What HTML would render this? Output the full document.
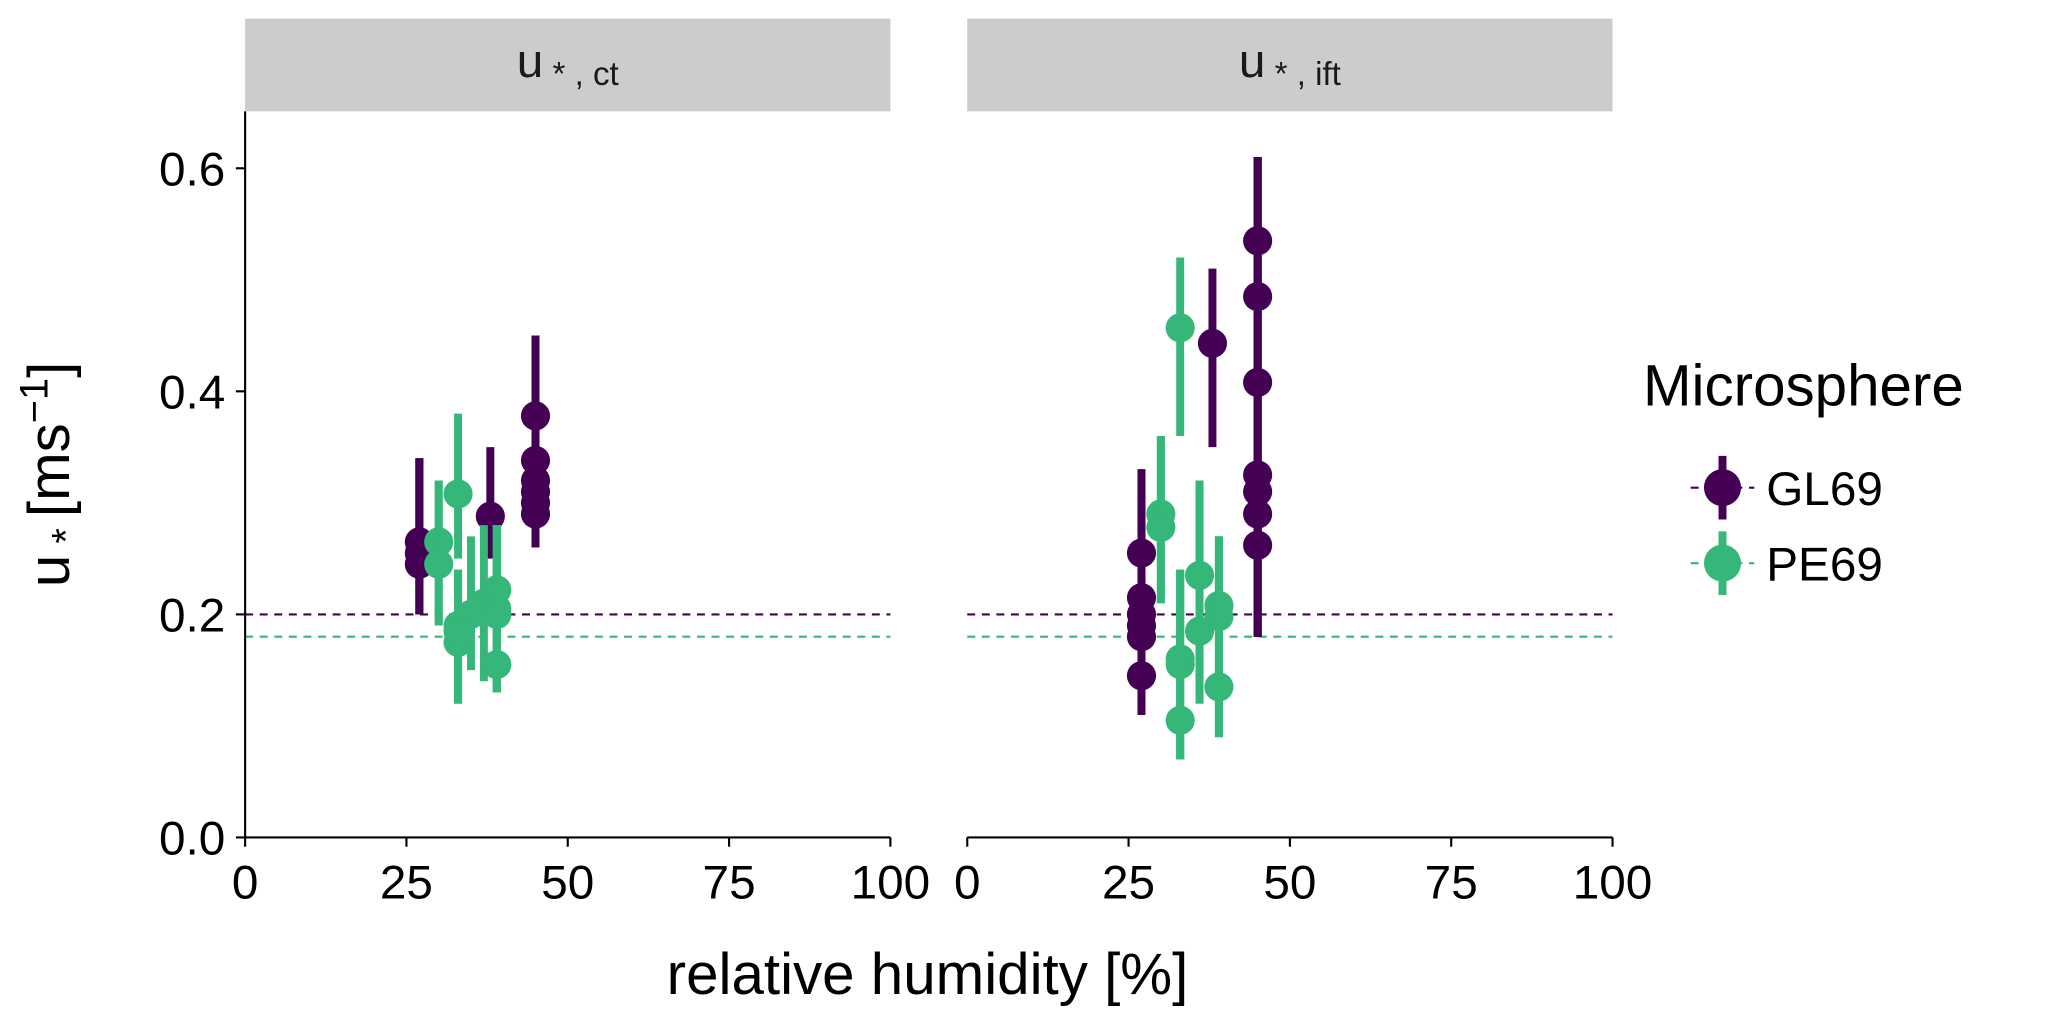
<!DOCTYPE html>
<html><head><meta charset="utf-8"><style>
html,body{margin:0;padding:0;background:#fff}
svg{display:block;font-family:"Liberation Sans",Arial,sans-serif}
</style></head><body>
<svg id="chart" width="2067" height="1019" viewBox="0 0 1560 769" xmlns="http://www.w3.org/2000/svg">
<g id="root"></g>
</svg>
<script>
// data arrays: panel index, group, humidity, u*, error low, error high
const panels = ["ct", "ift"];
const groups = ["GL69", "PE69"];
const ptPanel = [0,0,0,0,0,0,0,0,0,0, 0,0,0,0,0,0,0,0,0,0,0,0, 1,1,1,1,1,1,1,1,1,1,1,1,1,1, 1,1,1,1,1,1,1,1,1,1,1];
const ptGroup = [0,0,0,0,0,0,0,0,0,0, 1,1,1,1,1,1,1,1,1,1,1,1, 0,0,0,0,0,0,0,0,0,0,0,0,0,0, 1,1,1,1,1,1,1,1,1,1,1];
const ptX = [27,27,27,38,45,45,45,45,45,45, 30,30,33,33,33,35,37,39,39,39, 33,39,
             27,27,27,27,27,27,38,45,45,45,45,45,45,45, 30,30,33,33,33,33,36,36,39,39,39];
const ptY = [0.265,0.255,0.245,0.288,0.378,0.338,0.32,0.31,0.3,0.29, 0.265,0.245,0.308,0.19,0.175,0.2,0.21,0.222,0.205,0.155, 0.185,0.2,
             0.255,0.215,0.2,0.19,0.18,0.145,0.443,0.535,0.485,0.408,0.325,0.31,0.29,0.262, 0.29,0.278,0.457,0.16,0.155,0.105,0.235,0.185,0.208,0.198,0.135];
const ptLo = [0.2,0.2,0.2,0.25,0.26,0.26,0.26,0.26,0.26,0.26, 0.19,0.19,0.25,0.12,0.12,0.15,0.14,0.13,0.13,0.13, 0.12,0.13,
             0.11,0.11,0.11,0.11,0.11,0.11,0.35,0.18,0.18,0.18,0.18,0.18,0.18,0.18, 0.21,0.21,0.36,0.07,0.07,0.07,0.12,0.12,0.09,0.09,0.09];
const ptHi = [0.34,0.34,0.34,0.35,0.45,0.45,0.45,0.45,0.45,0.45, 0.32,0.32,0.38,0.24,0.24,0.27,0.28,0.28,0.28,0.28, 0.24,0.28,
             0.33,0.33,0.33,0.33,0.33,0.33,0.51,0.61,0.61,0.61,0.61,0.61,0.61,0.61, 0.36,0.36,0.52,0.24,0.24,0.24,0.32,0.32,0.27,0.27,0.27];
const refLines = [0.2, 0.18];
const xTicks = [0,25,50,75,100];
const yTicks = [0.0,0.2,0.4,0.6];
const yTickLabels = ["0.0","0.2","0.4","0.6"];

const colors = ["#440154","#35b779"];
const NS = "http://www.w3.org/2000/svg";
const root = document.getElementById("root");
const panelLeft = [185, 730], panelW = 487, yBottom = 632, yTop = 84;
function sx(p, v){ return panelLeft[p] + v/100*panelW; }
function sy(v){ return 632 - v*841.7; }
function mk(tag, attrs, parent){ const e=document.createElementNS(NS,tag); for(const k in attrs) e.setAttribute(k,attrs[k]); (parent||root).appendChild(e); return e; }

panels.forEach((pn,p)=>{
  const g = mk("g",{});
  
  
  const strip = mk("rect",{x:panelLeft[p],y:14,width:panelW,height:70,fill:"#cccccc"},g);
  
  
  const st = mk("text",{x:panelLeft[p]+panelW/2,y:58,"text-anchor":"middle","font-size":"36",fill:"#1a1a1a"},g);
  st.innerHTML = 'u<tspan font-size="25" dy="6"> * , '+pn+'</tspan>';
  
  
  refLines.forEach((r,i)=>{
    const l = mk("line",{x1:panelLeft[p],x2:panelLeft[p]+panelW,y1:sy(r),y2:sy(r),stroke:colors[i],"stroke-width":1.6,"stroke-dasharray":"6 5"},g);
    
    
  });
  const xa = mk("line",{x1:panelLeft[p],x2:panelLeft[p]+panelW,y1:yBottom,y2:yBottom,stroke:"#000","stroke-width":1.6},g);
  
  
  xTicks.forEach(t=>{
    mk("line",{x1:sx(p,t),x2:sx(p,t),y1:yBottom,y2:yBottom+7,stroke:"#000","stroke-width":1.6},g);
    const tl = mk("text",{x:sx(p,t),y:yBottom+46,"text-anchor":"middle","font-size":"36",fill:"#000"},g);
    tl.textContent = t;
    
    
  });
  for(let i=0;i<ptX.length;i++){
    if(ptPanel[i]!==p) continue;
    const c = colors[ptGroup[i]];
    const eb = mk("line",{x1:sx(p,ptX[i]),x2:sx(p,ptX[i]),y1:sy(ptLo[i]),y2:sy(ptHi[i]),stroke:c,"stroke-width":6},g);
    
    
    const pt = mk("circle",{cx:sx(p,ptX[i]),cy:sy(ptY[i]),r:11,fill:c},g);
    
    
  }
});
const ya = mk("line",{x1:185,x2:185,y1:yTop,y2:yBottom,stroke:"#000","stroke-width":1.6});


yTicks.forEach((t,i)=>{
  mk("line",{x1:178,x2:185,y1:sy(t),y2:sy(t),stroke:"#000","stroke-width":1.6});
  const tl = mk("text",{x:170,y:sy(t)+13,"text-anchor":"end","font-size":"36",fill:"#000"});
  tl.textContent = yTickLabels[i];
  
  
});
const xt = mk("text",{x:700,y:750,"text-anchor":"middle","font-size":"44",fill:"#000"});
xt.textContent = "relative humidity [%]";


const yt = mk("text",{x:0,y:0,"text-anchor":"middle","font-size":"44",fill:"#000",transform:"translate(52,358) rotate(-90)"});
yt.innerHTML = 'u<tspan font-size="30" dy="8"> * </tspan><tspan dy="-8"> [ms</tspan><tspan font-size="30" dy="-16">−1</tspan><tspan dy="16">]</tspan>';


const lg = mk("g",{});


const lt = mk("text",{x:1240,y:306,"font-size":"44",fill:"#000"},lg);
lt.textContent = "Microsphere";


groups.forEach((gname,i)=>{
  const cy = 368 + i*57;
  const e = mk("g",{},lg);
  
  
  mk("line",{x1:1276,x2:1324,y1:cy,y2:cy,stroke:colors[i],"stroke-width":1.6,"stroke-dasharray":"6 5"},e);
  mk("line",{x1:1300,x2:1300,y1:cy-24,y2:cy+24,stroke:colors[i],"stroke-width":6},e);
  mk("circle",{cx:1300,cy:cy,r:14,fill:colors[i]},e);
  const tx = mk("text",{x:1333,y:cy+13,"font-size":"36",fill:"#000"},e);
  tx.textContent = gname;
});
</script>
</body></html>
